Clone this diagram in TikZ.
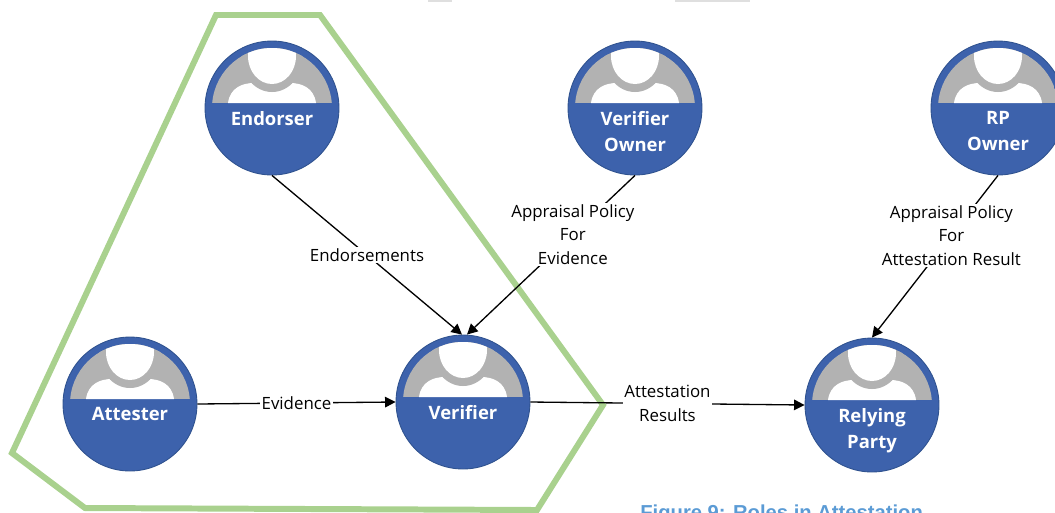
\documentclass[tikz,border=0pt]{standalone}
\usepackage{fontspec}
\setmainfont{Open Sans}
\newfontfamily\captionfont{Liberation Sans}
\usetikzlibrary{arrows.meta}
\definecolor{actorblue}{HTML}{3D62AC}
\definecolor{actoredge}{HTML}{2F528F}
\definecolor{actorgrey}{HTML}{B2B2B2}
\definecolor{groupgreen}{HTML}{A9D18E}
\definecolor{captionblue}{HTML}{5B9BD5}
\tikzset{
    actor/.style={circle, fill=actorblue, draw=actoredge, line width=0.5pt, inner sep=0pt, minimum size=2.68cm,
        path picture={
            \begin{scope}[shift={(path picture bounding box.center)}]
            \clip (-70,-70) rectangle (70,-5);
            \clip (0,0) circle[radius=60];
            \fill[actorgrey] (-70,-70) rectangle (70,-5);
            \fill[white] (-44,-5) .. controls (-42,-20) and (-30,-25) .. (-18,-25) -- (18,-25) .. controls (30,-25) and (42,-20) .. (44,-5) -- cycle;
            \fill[actorgrey] (0,-52) ellipse[x radius=31, y radius=36];
            \fill[white] (0,-52) ellipse[x radius=24, y radius=28];
            \end{scope}
        }},
    actortext/.style={anchor=north, inner sep=0pt, align=center, text=white, font=\fontsize{10.5}{14.8}\selectfont\bfseries},
    edgetext/.style={fill=white, inner sep=1pt, align=center, font=\fontsize{9.6}{13.4}\selectfont},
    flow/.style={line width=0.75pt, -{Triangle[length=6pt,width=6pt]}},
}
\begin{document}
\begin{tikzpicture} [x=0.02cm, y=-0.02cm]
    \useasboundingbox (0,0) rectangle (1055,512);
    \clip (0,0) rectangle (1055,512);

    \fill[gray!25] (428,0) rectangle (452,2);
    \fill[gray!25] (675,0) rectangle (750,2);

    \coordinate (g1) at (216,15);
    \coordinate (g2) at (320,15);
    \coordinate (g3) at (603,405);
    \coordinate (g4) at (537,510);
    \coordinate (g5) at (85,508);
    \coordinate (g6) at (12,453);
    \draw[groupgreen, line width=3.4pt] (g1) -- (g2) -- (g3) -- (g4) -- (g5) -- (g6) -- cycle;

    \node[actor] (endorser) at (272,108) {};
    \node[actor] (vowner) at (635,108) {};
    \node[actor] (rpowner) at (998,108) {};
    \node[actor] (attester) at (130,404) {};
    \node[actor] (verifier) at (463,402) {};
    \node[actor] (rparty) at (872,405) {};

    \node[actortext] (endorsertext) at (272,111) {Endorser};
    \node[actortext] (vownertext) at (635,111) {Verifier\\Owner};
    \node[actortext] (rpownertext) at (998,111) {RP\\Owner};
    \node[actortext] (attestertext) at (130,407) {Attester};
    \node[actortext] (verifiertext) at (463,405) {Verifier};
    \node[actortext] (rpartytext) at (872,408) {Relying\\Party};

    \draw[flow] (endorser.south) -- node[edgetext] (endorsements) {Endorsements} ([xshift=-0.02cm]verifier.north);
    \draw[flow] (vowner.south) -- node[edgetext, pos=0.37] (vpolicy) {Appraisal Policy\\For\\Evidence} ([xshift=0.08cm]verifier.north);
    \draw[flow] (rpowner.south) -- node[edgetext, pos=0.37] (rppolicy) {Appraisal Policy\\For\\Attestation Result} (rparty.north);
    \draw[flow] (attester.east) -- node[edgetext] (evidence) {Evidence} (verifier.west);
    \draw[flow] (verifier.east) -- node[edgetext, pos=0.5] (results) {Attestation\\Results} (rparty.west);

    \node[anchor=north west, inner sep=0pt, text=captionblue, font=\fontsize{11.5}{14}\selectfont\captionfont\bfseries] (caption) at (640,504) {Figure 9: Roles in Attestation};
\end{tikzpicture}
\end{document}
